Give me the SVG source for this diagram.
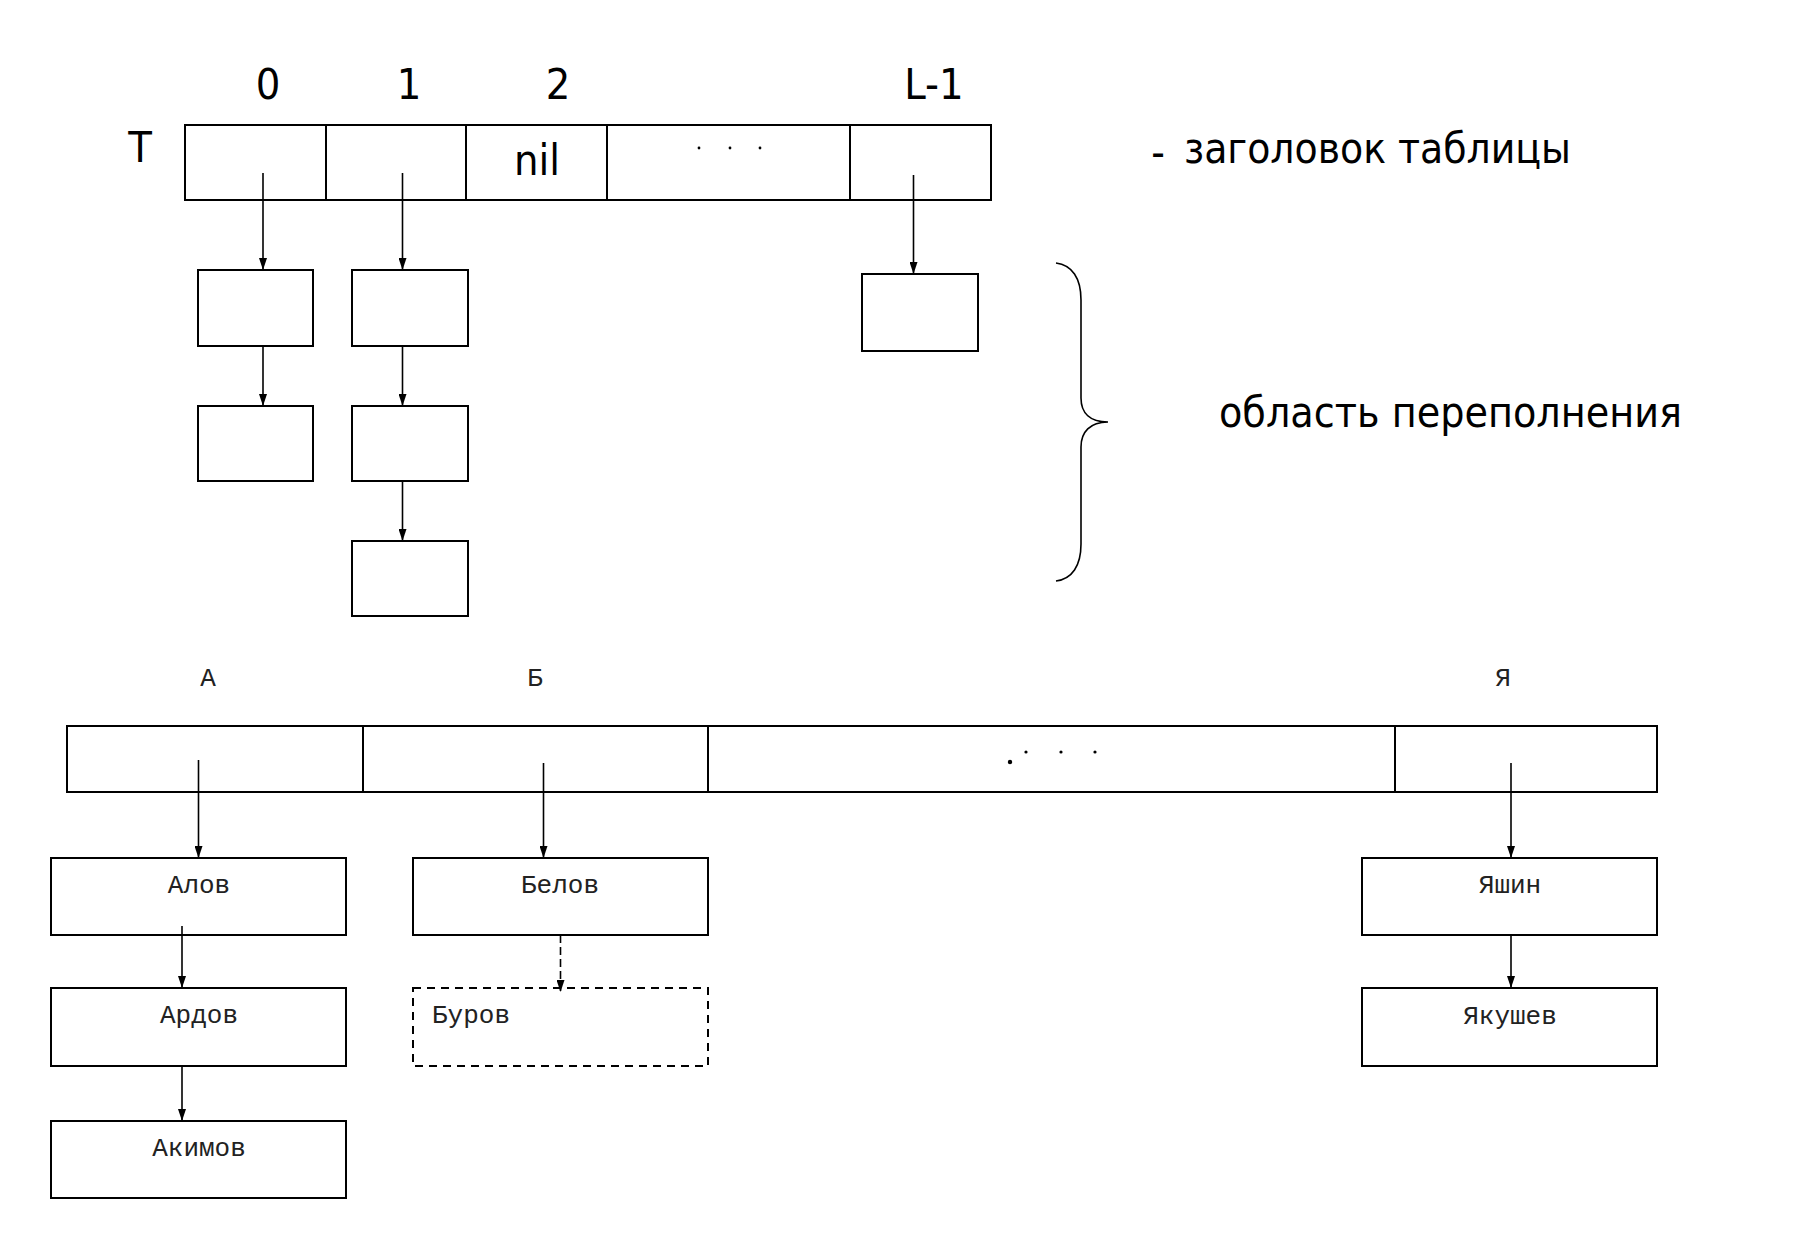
<svg xmlns="http://www.w3.org/2000/svg" width="1808" height="1254" viewBox="0 0 1808 1254">
<style>
.box{fill:#fff;stroke:#000;stroke-width:2}
.dbox{fill:#fff;stroke:#000;stroke-width:2;stroke-dasharray:8 6}
.ln{fill:none;stroke:#000;stroke-width:1.6}
.div{fill:none;stroke:#000;stroke-width:2}
.big{font-family:"DejaVu Sans Condensed","DejaVu Sans","Liberation Sans",sans-serif;font-stretch:condensed;font-size:43px;fill:#000}
.cap{font-family:"DejaVu Sans Condensed","DejaVu Sans","Liberation Sans",sans-serif;font-stretch:condensed;font-size:42px;fill:#000}
.mono{font-family:"Liberation Mono","DejaVu Sans Mono",monospace;font-size:26px;fill:#222}
</style>
<defs>
<marker id="ah" viewBox="0 0 12 8" markerWidth="12" markerHeight="8" refX="12" refY="4" orient="auto" markerUnits="userSpaceOnUse">
<path d="M0,0 L12,4 L0,8 z" fill="#000"/>
</marker>
</defs>
<rect width="1808" height="1254" fill="#fff"/>

<!-- top index labels -->
<g id="labels-top">
<text class="big" x="268" y="99" text-anchor="middle">0</text>
<text class="big" x="409" y="99" text-anchor="middle">1</text>
<text class="big" x="558" y="99" text-anchor="middle">2</text>
<text class="big" x="934" y="99" text-anchor="middle">L-1</text>
<text class="big" x="140" y="162" text-anchor="middle">T</text>
</g>

<!-- table header T -->
<g id="table-T">
<rect class="box" x="185" y="125" width="806" height="75"/>
<line class="div" x1="326" y1="125" x2="326" y2="200"/>
<line class="div" x1="466" y1="125" x2="466" y2="200"/>
<line class="div" x1="607" y1="125" x2="607" y2="200"/>
<line class="div" x1="850" y1="125" x2="850" y2="200"/>
<text class="big" x="537" y="175" text-anchor="middle">nil</text>
<circle cx="699" cy="148" r="1.4" fill="#000"/>
<circle cx="730" cy="148" r="1.4" fill="#000"/>
<circle cx="760" cy="148" r="1.4" fill="#000"/>
</g>

<g id="caption-header">
<text class="cap" x="1158" y="167" text-anchor="middle" font-size="24">-</text>
<text class="cap" x="1184" y="163" textLength="387" lengthAdjust="spacingAndGlyphs">заголовок таблицы</text>
</g>

<!-- overflow boxes -->
<g id="ov-0-1"><rect class="box" x="198" y="270" width="115" height="76"/></g>
<g id="ov-0-2"><rect class="box" x="198" y="406" width="115" height="75"/></g>
<g id="ov-1-1"><rect class="box" x="352" y="270" width="116" height="76"/></g>
<g id="ov-1-2"><rect class="box" x="352" y="406" width="116" height="75"/></g>
<g id="ov-1-3"><rect class="box" x="352" y="541" width="116" height="75"/></g>
<g id="ov-L-1"><rect class="box" x="862" y="274" width="116" height="77"/></g>

<g id="brace">
<path class="ln" d="M1056,263 C1072,265 1081,278 1081,300 L1081,398 C1081,413 1090,422 1108,422 C1090,422 1081,432 1081,447 L1081,544 C1081,566 1072,579 1056,581"/>
<text class="cap" x="1219" y="427" textLength="463" lengthAdjust="spacingAndGlyphs">область переполнения</text>
</g>

<!-- bottom example -->
<g id="labels-bottom">
<text class="mono" x="208" y="686" text-anchor="middle">А</text>
<text class="mono" x="535" y="686" text-anchor="middle">Б</text>
<text class="mono" x="1503" y="686" text-anchor="middle">Я</text>
</g>

<g id="table-letters">
<rect class="box" x="67" y="726" width="1590" height="66"/>
<line class="div" x1="363" y1="726" x2="363" y2="792"/>
<line class="div" x1="708" y1="726" x2="708" y2="792"/>
<line class="div" x1="1395" y1="726" x2="1395" y2="792"/>
<circle cx="1010" cy="762" r="2.2" fill="#000"/>
<circle cx="1026" cy="752" r="1.6" fill="#000"/>
<circle cx="1061" cy="752" r="1.6" fill="#000"/>
<circle cx="1095" cy="752" r="1.6" fill="#000"/>
</g>

<g id="n-alov"><rect class="box" x="51" y="858" width="295" height="77"/><text class="mono" x="199" y="893" text-anchor="middle">Алов</text></g>
<g id="n-ardov"><rect class="box" x="51" y="988" width="295" height="78"/><text class="mono" x="199" y="1023" text-anchor="middle">Ардов</text></g>
<g id="n-akimov"><rect class="box" x="51" y="1121" width="295" height="77"/><text class="mono" x="199" y="1156" text-anchor="middle">Акимов</text></g>
<g id="n-belov"><rect class="box" x="413" y="858" width="295" height="77"/><text class="mono" x="560" y="893" text-anchor="middle">Белов</text></g>
<g id="n-burov"><rect class="dbox" x="413" y="988" width="295" height="78"/><text class="mono" x="432" y="1023">Буров</text></g>
<g id="n-yashin"><rect class="box" x="1362" y="858" width="295" height="77"/><text class="mono" x="1510" y="893" text-anchor="middle">Яшин</text></g>
<g id="n-yakushev"><rect class="box" x="1362" y="988" width="295" height="78"/><text class="mono" x="1510" y="1024" text-anchor="middle">Якушев</text></g>

<g id="connectors">
<line class="ln" x1="263" y1="173" x2="263" y2="270" marker-end="url(#ah)"/>
<line class="ln" x1="402.5" y1="173" x2="402.5" y2="270" marker-end="url(#ah)"/>
<line class="ln" x1="913.5" y1="175" x2="913.5" y2="274" marker-end="url(#ah)"/>
<line class="ln" x1="263" y1="346" x2="263" y2="406" marker-end="url(#ah)"/>
<line class="ln" x1="402.5" y1="346" x2="402.5" y2="406" marker-end="url(#ah)"/>
<line class="ln" x1="402.5" y1="481" x2="402.5" y2="541" marker-end="url(#ah)"/>
<line class="ln" x1="198.5" y1="760" x2="198.5" y2="858" marker-end="url(#ah)"/>
<line class="ln" x1="543.5" y1="763" x2="543.5" y2="858" marker-end="url(#ah)"/>
<line class="ln" x1="1511" y1="763" x2="1511" y2="858" marker-end="url(#ah)"/>
<line class="ln" x1="182" y1="926" x2="182" y2="988" marker-end="url(#ah)"/>
<line class="ln" x1="182" y1="1066" x2="182" y2="1121" marker-end="url(#ah)"/>
<line class="ln" x1="1511" y1="935" x2="1511" y2="988" marker-end="url(#ah)"/>
<line class="ln" x1="560.5" y1="935" x2="560.5" y2="992" stroke-dasharray="8 4" marker-end="url(#ah)"/>
</g>
</svg>
